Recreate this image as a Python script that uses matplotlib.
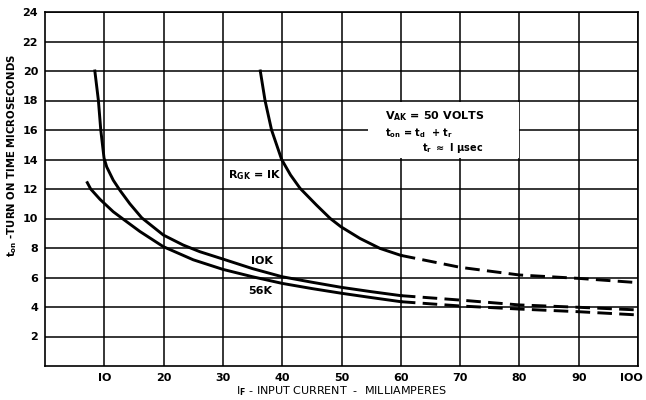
import matplotlib
matplotlib.use("Agg")
import matplotlib.pyplot as plt
from matplotlib.patches import Rectangle
from matplotlib.transforms import ScaledTranslation

plt.rcParams["font.family"] = ["DejaVu Sans"]
plt.rcParams["font.weight"] = "bold"
plt.rcParams["mathtext.default"] = "bf"

# courbes (trait plein)
x_1k = [36.3, 37.1, 38.2, 39.9, 41.4, 43.0, 45.8, 48.1, 49.9, 53.1, 56.5, 60.0]
y_1k = [20.0, 18.0, 16.0, 14.0, 12.95, 12.05, 10.9, 10.0, 9.44, 8.65, 7.97, 7.5]
x_10k = [8.4, 9.0, 9.4, 9.95, 10.4, 11.5, 12.65, 14.3, 16.3, 19.95, 23.3, 26.1,
         30, 35, 40, 45, 50, 55, 60]
y_10k = [20.0, 18.0, 16.0, 14.1, 13.5, 12.6, 11.9, 11.0, 10.05, 8.88, 8.2, 7.75,
         7.25, 6.6, 6.05, 5.68, 5.33, 5.04, 4.77]
x_56k = [7.13, 7.7, 9.27, 11.5, 13.2, 16.0, 19.95, 25, 30, 35, 40, 45, 50, 55, 60]
y_56k = [12.43, 12.0, 11.3, 10.46, 9.95, 9.12, 8.09, 7.2, 6.55, 6.05, 5.6, 5.25,
         4.93, 4.64, 4.36]

# extrapolations (pointillés)
xd = [60, 70, 80, 90, 100]
yd_1k = [7.5, 6.69, 6.17, 5.94, 5.65]
yd_10k = [4.77, 4.47, 4.14, 3.98, 3.8]
yd_56k = [4.36, 4.07, 3.86, 3.68, 3.46]

x_ticks = [10, 20, 30, 40, 50, 60, 70, 80, 90, 100]
x_labels = ["IO", "20", "30", "40", "50", "60", "70", "80", "90", "IOO"]
y_ticks = [2, 4, 6, 8, 10, 12, 14, 16, 18, 20, 22, 24]

fig = plt.figure(figsize=(6.46, 4.0), dpi=100)
ax = fig.add_axes([0.0697, 0.085, 0.918, 0.885])
ax.set_xlim(0, 100)
ax.set_ylim(0, 24)

for v in x_ticks:
    ax.axvline(v, color="black", lw=1.1, zorder=1)
for v in y_ticks:
    ax.axhline(v, color="black", lw=1.1, zorder=1)

# cadre blanc des conditions
ax.add_patch(Rectangle((54.5, 14.12), 25.4, 3.8, facecolor="white",
                       edgecolor="none", zorder=2))

kw = dict(color="black", lw=2.1, zorder=3, solid_joinstyle="round")
ax.plot(x_1k, y_1k, **kw)
ax.plot(x_10k, y_10k, **kw)
ax.plot(x_56k, y_56k, **kw)
for yd in (yd_1k, yd_10k, yd_56k):
    ax.plot(xd, yd, dashes=(5, 2.5), **kw)

ax.text(30.8, 12.7, r"R$_{GK}$ = IK", fontsize=8, zorder=4)
ax.text(34.7, 6.9, "IOK", fontsize=8, zorder=4)
ax.text(34.2, 4.9, "56K", fontsize=8, zorder=4)

ax.text(57.3, 16.7, r"V$_{AK}$ = 50 VOLTS", fontsize=8, zorder=4)
ax.text(57.3, 15.6, r"t$_{on}$ = t$_d$  + t$_r$", fontsize=7, zorder=4)
ax.text(63.6, 14.6, r"t$_r$ $\approx$ I $\mu$sec", fontsize=7, zorder=4)

ax.set_xticks(x_ticks)
ax.set_xticklabels(x_labels)
ax.set_yticks(y_ticks)
ax.tick_params(length=0, labelsize=8, pad=5)
last = ax.get_xticklabels()[-1]
last.set_horizontalalignment("right")
last.set_transform(last.get_transform() + ScaledTranslation(5 / 100, 0, fig.dpi_scale_trans))
for s in ax.spines.values():
    s.set_linewidth(1.2)

ax.set_xlabel(r"I$_F$ - INPUT CURRENT  -  MILLIAMPERES", fontsize=8, labelpad=1)
fig.text(12 / 646, 1 - 155 / 400, r"t$_{on}$ -TURN ON TIME MICROSECONDS", fontsize=7.3,
         rotation=90, ha="center", va="center")

fig.savefig("out.png", dpi=100)
